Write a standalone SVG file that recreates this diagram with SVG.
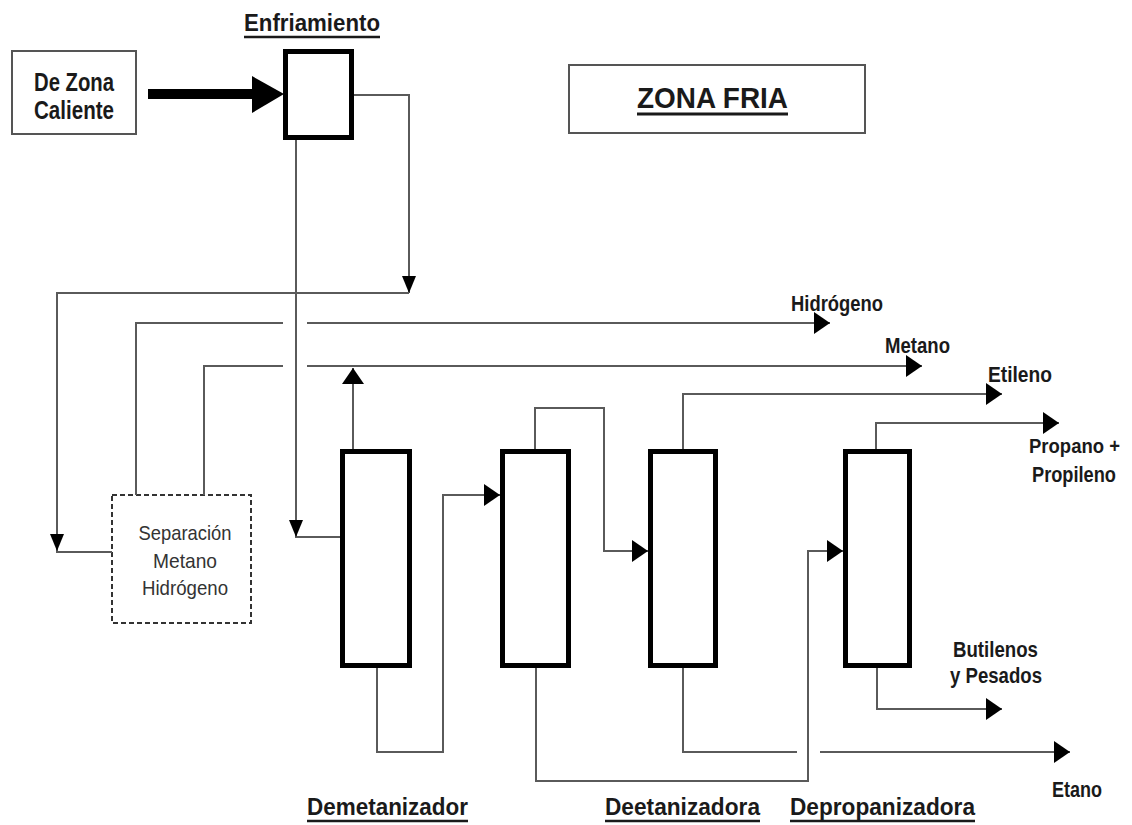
<svg xmlns="http://www.w3.org/2000/svg" width="1132" height="825" viewBox="0 0 1132 825">
<style>
.lbl{font-family:"Liberation Sans",Arial,sans-serif;font-weight:bold;fill:#1a1a1a;}
.reg{font-family:"Liberation Sans",Arial,sans-serif;fill:#333;}
.ln{fill:none;stroke:#5a5a5a;stroke-width:2;}
.col{fill:#fff;stroke:#000;stroke-width:5;}
.ul{stroke:#1a1a1a;stroke-width:2.5;}
.ah{fill:#000;}
</style>
<defs>
<marker id="arr" markerUnits="userSpaceOnUse" markerWidth="16" markerHeight="22" refX="16" refY="11" orient="auto">
<path d="M0,0 L16,11 L0,22 z" fill="#000"/>
</marker>
</defs>
<rect width="1132" height="825" fill="#fff"/>

<g id="zona-caliente">
<rect x="12" y="51" width="124" height="83" fill="#fff" stroke="#555" stroke-width="2"/>
<text class="lbl" x="74" y="91" font-size="25" text-anchor="middle" textLength="80" lengthAdjust="spacingAndGlyphs">De Zona</text>
<text class="lbl" x="74" y="119" font-size="25" text-anchor="middle" textLength="80" lengthAdjust="spacingAndGlyphs">Caliente</text>
</g>

<g id="enfriamiento">
<rect class="col" x="285.5" y="51.5" width="66" height="86"/>
<text class="lbl" x="244" y="31" font-size="24" textLength="136" lengthAdjust="spacingAndGlyphs">Enfriamiento</text>
<line class="ul" x1="244" y1="37" x2="380" y2="37"/>
</g>

<g id="zona-fria">
<rect x="569" y="65" width="296" height="68" fill="#fff" stroke="#555" stroke-width="2"/>
<text class="lbl" x="637" y="108" font-size="30" textLength="151" lengthAdjust="spacingAndGlyphs">ZONA FRIA</text>
<line x1="637" y1="114" x2="788" y2="114" stroke="#1a1a1a" stroke-width="3"/>
</g>

<g id="separacion">
<rect x="112" y="495" width="139" height="128" fill="#fff" stroke="#333" stroke-width="2" stroke-dasharray="5,3"/>
<text class="reg" x="185" y="540" font-size="21" text-anchor="middle" textLength="93" lengthAdjust="spacingAndGlyphs">Separación</text>
<text class="reg" x="185" y="568" font-size="21" text-anchor="middle" textLength="64" lengthAdjust="spacingAndGlyphs">Metano</text>
<text class="reg" x="185" y="595" font-size="21" text-anchor="middle" textLength="86" lengthAdjust="spacingAndGlyphs">Hidrógeno</text>
</g>

<g id="demetanizador">
<rect class="col" x="342.5" y="451.5" width="67" height="214"/>
<text class="lbl" x="307" y="815" font-size="24" textLength="161" lengthAdjust="spacingAndGlyphs">Demetanizador</text>
<line class="ul" x1="307" y1="821" x2="468" y2="821"/>
</g>

<g id="columna-2">
<rect class="col" x="502.5" y="451.5" width="66" height="214"/>
</g>

<g id="deetanizadora">
<rect class="col" x="650.5" y="451.5" width="65" height="214"/>
<text class="lbl" x="605" y="815" font-size="24" textLength="155" lengthAdjust="spacingAndGlyphs">Deetanizadora</text>
<line class="ul" x1="605" y1="821" x2="760" y2="821"/>
</g>

<g id="depropanizadora">
<rect class="col" x="845.5" y="451.5" width="64" height="214"/>
<text class="lbl" x="790" y="815" font-size="24" textLength="185" lengthAdjust="spacingAndGlyphs">Depropanizadora</text>
<line class="ul" x1="790" y1="821" x2="975" y2="821"/>
</g>

<g id="connectors">
<path d="M148,94 H254" stroke="#000" stroke-width="10" fill="none"/>
<path class="ah" d="M252,76 L284,94 L252,113 z"/>

<path class="ln" d="M354,95 H409 V293"/>
<path class="ah" d="M402,276 L416,276 L409,293 z"/>
<path class="ln" d="M409,293 H57 V552 H112"/>
<path class="ah" d="M50,534 L64,534 L57,551 z"/>
<path class="ln" d="M296,140 V537 H340"/>
<path class="ah" d="M289,520 L303,520 L296,537 z"/>

<path class="ln" d="M136,495 V323 H283"/>
<path class="ln" d="M307,323 H830" marker-end="url(#arr)"/>
<path class="ln" d="M204,495 V366 H283"/>
<path class="ln" d="M307,366 H922" marker-end="url(#arr)"/>
<path class="ln" d="M353,449 V368" marker-end="url(#arr)"/>

<path class="ln" d="M535,449 V408 H604 V551 H648" marker-end="url(#arr)"/>
<path class="ln" d="M683,449 V394 H1002" marker-end="url(#arr)"/>
<path class="ln" d="M876,449 V423 H1059" marker-end="url(#arr)"/>

<path class="ln" d="M377,668 V752 H443 V495 H500" marker-end="url(#arr)"/>
<path class="ln" d="M536,668 V781 H808 V551 H843" marker-end="url(#arr)"/>
<path class="ln" d="M683,668 V752 H797"/>
<path class="ln" d="M820,752 H1070" marker-end="url(#arr)"/>
<path class="ln" d="M877,668 V709 H1002" marker-end="url(#arr)"/>
</g>

<g id="labels">
<text class="lbl" x="791" y="311" font-size="22" textLength="92" lengthAdjust="spacingAndGlyphs">Hidrógeno</text>
<text class="lbl" x="885" y="353" font-size="22" textLength="65" lengthAdjust="spacingAndGlyphs">Metano</text>
<text class="lbl" x="988" y="382" font-size="22" textLength="64" lengthAdjust="spacingAndGlyphs">Etileno</text>
<text class="lbl" x="1029" y="453" font-size="20" textLength="91" lengthAdjust="spacingAndGlyphs">Propano +</text>
<text class="lbl" x="1032" y="482" font-size="22" textLength="84" lengthAdjust="spacingAndGlyphs">Propileno</text>
<text class="lbl" x="953" y="657" font-size="22" textLength="85" lengthAdjust="spacingAndGlyphs">Butilenos</text>
<text class="lbl" x="950" y="683" font-size="22" textLength="92" lengthAdjust="spacingAndGlyphs">y Pesados</text>
<text class="lbl" x="1052" y="797" font-size="22" textLength="50" lengthAdjust="spacingAndGlyphs">Etano</text>
</g>
</svg>
